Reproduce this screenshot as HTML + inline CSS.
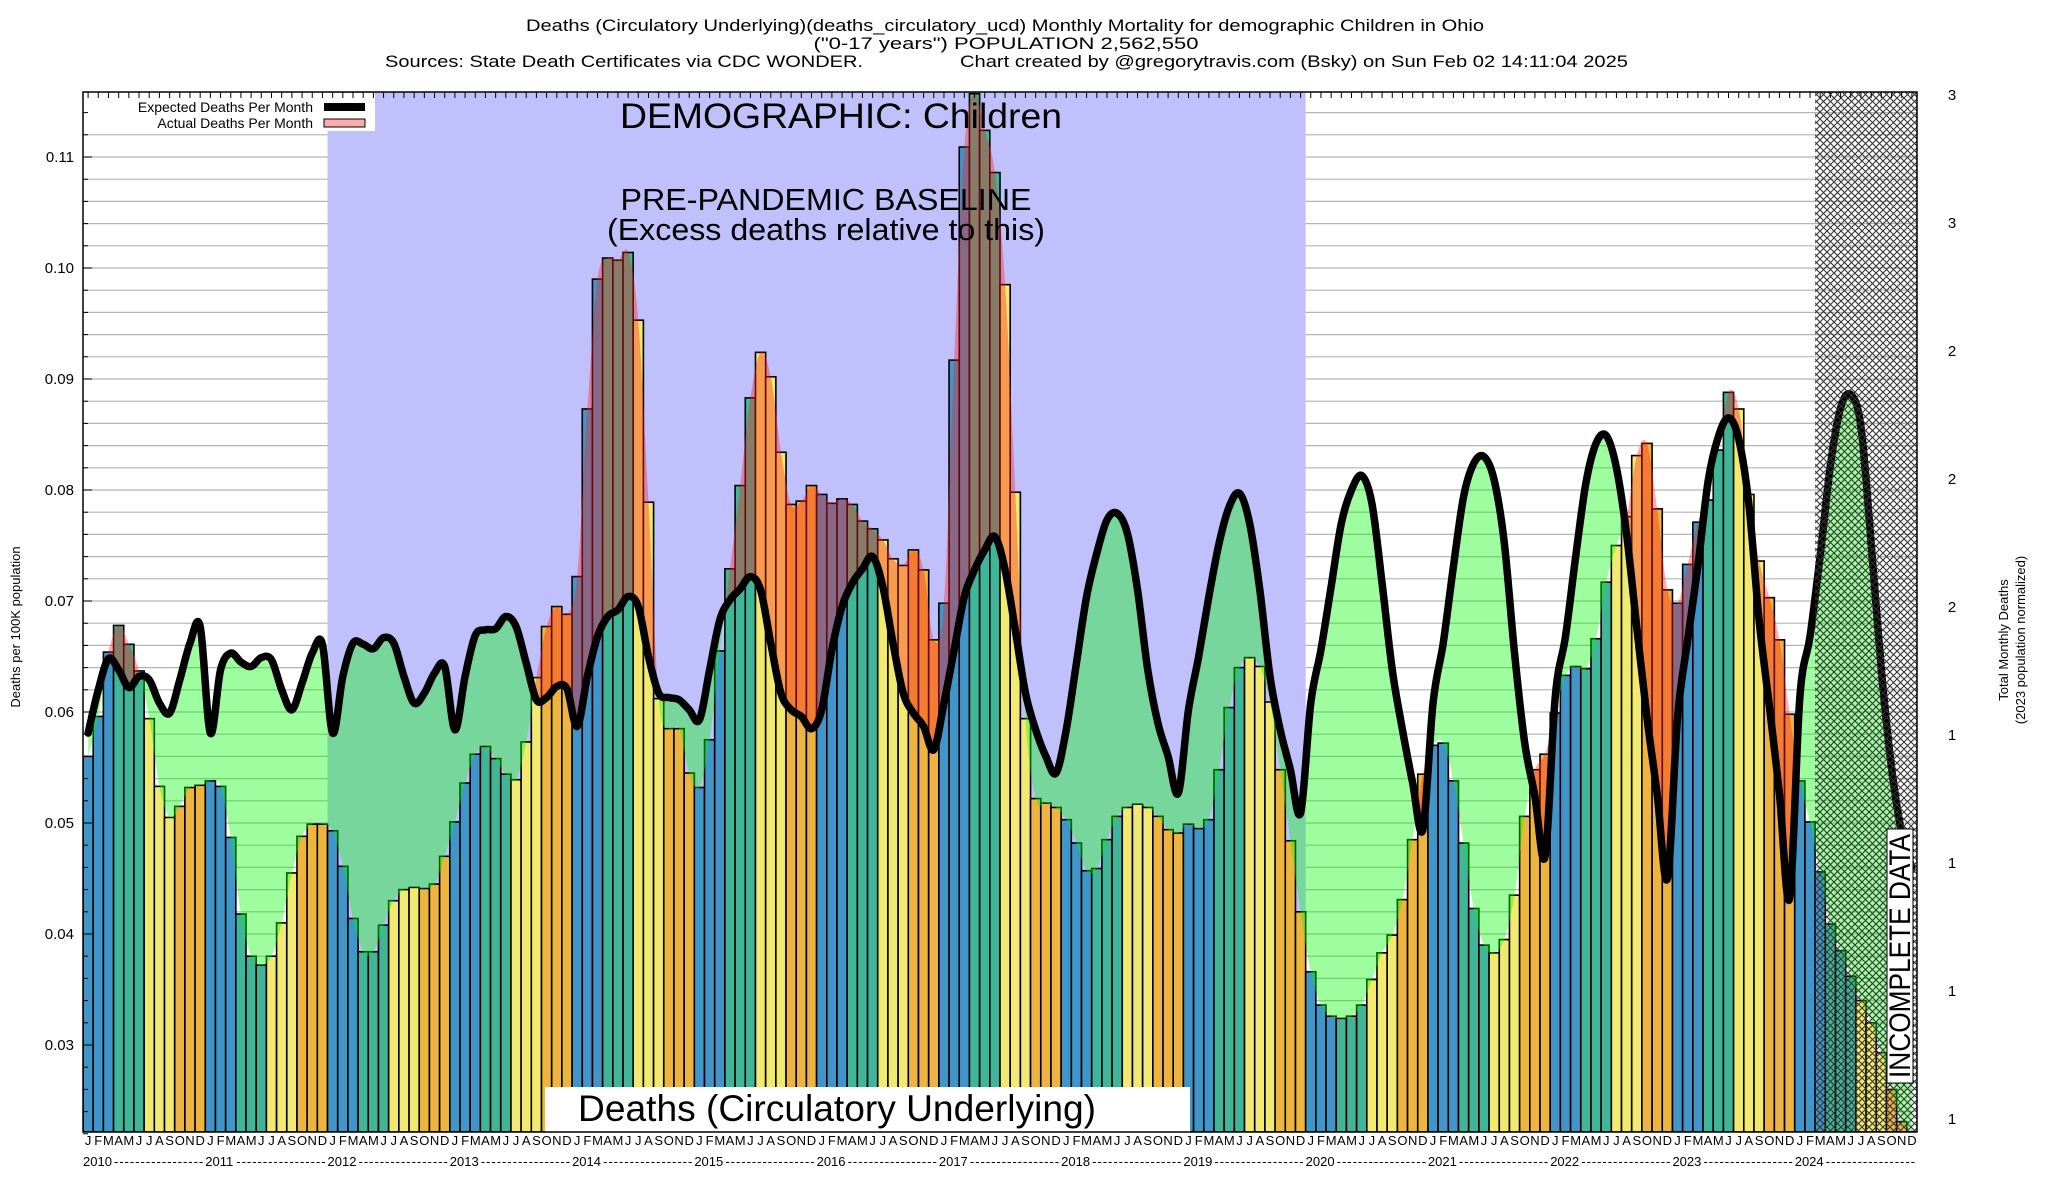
<!DOCTYPE html>
<html><head><meta charset="utf-8"><title>Deaths (Circulatory Underlying) Monthly Mortality - Children in Ohio</title>
<style>
html,body{margin:0;padding:0;background:#fff;}
svg{display:block;font-family:"Liberation Sans",sans-serif;}
</style></head>
<body>
<svg id="chart" xmlns="http://www.w3.org/2000/svg" width="2048" height="1200" viewBox="0 0 2048 1200">
<defs>
<clipPath id="plotClip"><rect x="83" y="92" width="1834" height="1040"/></clipPath>
<pattern id="hatch" width="7" height="7" patternUnits="userSpaceOnUse">
<path d="M0,0 L7,7 M7,0 L0,7" stroke="#333" stroke-width="1.1"/>
</pattern>
</defs>
<rect x="0" y="0" width="2048" height="1200" fill="#fff"/>
<g>
<text x="1005" y="31" font-size="17" text-anchor="middle" textLength="958" lengthAdjust="spacingAndGlyphs">Deaths (Circulatory Underlying)(deaths_circulatory_ucd) Monthly Mortality for demographic Children in Ohio</text>
<text x="1006" y="49" font-size="17" text-anchor="middle" textLength="385" lengthAdjust="spacingAndGlyphs">("0-17 years") POPULATION 2,562,550</text>
<text x="385" y="67" font-size="17" textLength="478" lengthAdjust="spacingAndGlyphs">Sources: State Death Certificates via CDC WONDER.</text>
<text x="960" y="67" font-size="17" textLength="668" lengthAdjust="spacingAndGlyphs">Chart created by @gregorytravis.com (Bsky) on Sun Feb 02 14:11:04 2025</text>
</g>
<g id="plot" clip-path="url(#plotClip)"></g>
<g id="overlay"></g>
<g id="axes"></g>
</svg>
<script>
const monthLetters = ["J","F","M","A","M","J","J","A","S","O","N","D"];
const years = [2010,2011,2012,2013,2014,2015,2016,2017,2018,2019,2020,2021,2022,2023,2024];
const yTicks = [0.03,0.04,0.05,0.06,0.07,0.08,0.09,0.10,0.11];
const rightTickLabels = ["3","3","2","2","2","1","1","1","1"];
const actual = [
.0560,.0596,.0654,.0678,.0661,.0637,.0594,.0533,.0505,.0515,.0532,.0534,
.0538,.0533,.0487,.0418,.0380,.0372,.0380,.0410,.0455,.0488,.0499,.0499,
.0493,.0461,.0414,.0384,.0384,.0408,.0430,.0440,.0442,.0441,.0445,.0470,
.0501,.0536,.0562,.0569,.0558,.0544,.0539,.0573,.0631,.0677,.0695,.0688,
.0722,.0873,.0990,.1009,.1007,.1014,.0953,.0789,.0612,.0585,.0585,.0545,
.0532,.0575,.0655,.0729,.0804,.0883,.0924,.0902,.0834,.0787,.0790,.0804,
.0796,.0788,.0792,.0787,.0772,.0765,.0755,.0738,.0732,.0746,.0728,.0665,
.0698,.0917,.1109,.1157,.1124,.1086,.0985,.0798,.0594,.0522,.0518,.0514,
.0503,.0482,.0457,.0459,.0485,.0506,.0514,.0517,.0514,.0506,.0494,.0491,
.0499,.0495,.0503,.0548,.0604,.0640,.0649,.0641,.0609,.0548,.0484,.0420,
.0366,.0336,.0326,.0324,.0326,.0336,.0359,.0383,.0399,.0431,.0485,.0544,
.0570,.0572,.0538,.0482,.0423,.0390,.0383,.0395,.0435,.0506,.0548,.0562,
.0599,.0633,.0641,.0639,.0666,.0717,.0750,.0776,.0831,.0842,.0783,.0710,
.0698,.0733,.0771,.0791,.0836,.0888,.0873,.0796,.0736,.0703,.0665,.0598,
.0538,.0501,.0456,.0409,.0385,.0362,.0340,.0320,.0293,.0260,.0231,.0222];
const expected = [
.0581,.0620,.0648,.0638,.0622,.0632,.0629,.0608,.0599,.0629,.0662,.0677,
.0581,.0638,.0653,.0645,.0641,.0649,.0647,.0620,.0602,.0626,.0653,.0661,
.0581,.0632,.0662,.0661,.0657,.0667,.0662,.0632,.0608,.0617,.0635,.0641,
.0584,.0632,.0669,.0674,.0675,.0686,.0677,.0644,.0611,.0613,.0623,.0621,
.0587,.0632,.0668,.0686,.0692,.0704,.0695,.0650,.0617,.0613,.0611,.0602,
.0593,.0638,.0683,.0701,.0711,.0722,.0710,.0662,.0617,.0602,.0596,.0585,
.0602,.0656,.0695,.0716,.0729,.0740,.0713,.0662,.0617,.0599,.0587,.0566,
.0608,.0656,.0704,.0728,.0746,.0758,.0728,.0674,.0617,.0584,.0560,.0545,
.0584,.0644,.0704,.0743,.0773,.0779,.0761,.0710,.0638,.0590,.0560,.0527,
.0602,.0650,.0704,.0752,.0785,.0797,.0770,.0710,.0632,.0584,.0548,.0509,
.0608,.0656,.0713,.0770,.0800,.0813,.0788,.0716,.0638,.0584,.0536,.0494,
.0608,.0662,.0731,.0794,.0824,.0830,.0809,.0752,.0653,.0572,.0524,.0470,
.0614,.0668,.0740,.0806,.0842,.0849,.0820,.0760,.0676,.0595,.0526,.0450,
.0595,.0665,.0732,.0808,.0848,.0865,.0846,.0787,.0683,.0606,.0526,.0432,
.0613,.0668,.0741,.0822,.0874,.0886,.0857,.0752,.0638,.0550,.0491,.0460];
const baselineStartMonth = 24, baselineEndMonth = 120, incompleteStartMonth = 170;

const NS = "http://www.w3.org/2000/svg";
const PL = 83, PR = 1917, PT = 92, PB = 1132;
const N = actual.length;
const W = (PR - PL) / 180;
function xLeft(i){ return PL + i * W; }
function xC(i){ return PL + (i + 0.5) * W; }
function yV(v){ return 157 + (0.11 - v) * 11100; }
function mk(tag, attrs, parent){
  const e = document.createElementNS(NS, tag);
  for (const k in attrs) e.setAttribute(k, attrs[k]);
  parent.appendChild(e);
  return e;
}
function splinePath(pts){
  let d = "M" + pts[0][0].toFixed(2) + "," + pts[0][1].toFixed(2);
  for (let i = 0; i < pts.length - 1; i++){
    const p0 = pts[i-1] || pts[i], p1 = pts[i], p2 = pts[i+1], p3 = pts[i+2] || p2;
    const c1x = p1[0] + (p2[0]-p0[0])/6, c1y = p1[1] + (p2[1]-p0[1])/6;
    const c2x = p2[0] - (p3[0]-p1[0])/6, c2y = p2[1] - (p3[1]-p1[1])/6;
    d += " C" + c1x.toFixed(2)+","+c1y.toFixed(2)+" "+c2x.toFixed(2)+","+c2y.toFixed(2)+" "+p2[0].toFixed(2)+","+p2[1].toFixed(2);
  }
  return d;
}
const svg = document.getElementById("chart");
const defs = svg.querySelector("defs");
const plot = document.getElementById("plot");
const overlay = document.getElementById("overlay");
const axes = document.getElementById("axes");

for (let v = 0.022; v <= 0.1145; v += 0.002){
  const g = mk("line", {x1:PL, x2:PR, y1:yV(v), y2:yV(v), stroke:"#b4b4b4", "stroke-width":1.2}, plot);
  
  
}
const base = mk("rect", {x:xLeft(baselineStartMonth), y:PT, width:xLeft(baselineEndMonth)-xLeft(baselineStartMonth), height:PB-PT, fill:"#c0c0fc"}, plot);



const qColors = ["#4195c8","#40b597","#f2e971","#edb540"];
for (let i = 0; i < N; i++){
  const v = actual[i];
  const b = mk("rect", {x:xLeft(i), y:yV(v), width:W, height:PB - yV(v), fill:qColors[Math.floor((i%12)/3)], stroke:"#000", "stroke-width":1.6}, plot);
  
  
}

const aPts = actual.map((v,i)=>[xC(i), yV(v)]);
const ePts = expected.map((v,i)=>[xC(i), yV(v)]);
const aPath = splinePath(aPts), ePath = splinePath(ePts);
const xs = xC(0), xe = xC(N-1);
function addClip(id, d){
  const c = mk("clipPath", {id:id}, defs);
  mk("path", {d:d}, c);
}
addClip("underActual", aPath + " L"+xe+","+PB+" L"+xs+","+PB+" Z");
addClip("aboveActual", aPath + " L"+xe+","+PT+" L"+xs+","+PT+" Z");
const gRed = mk("g", {"clip-path":"url(#underActual)"}, plot);
const red = mk("path", {d: ePath + " L"+xe+","+PT+" L"+xs+","+PT+" Z", fill:"rgba(255,30,30,0.38)"}, gRed);


const gGreen = mk("g", {"clip-path":"url(#aboveActual)"}, plot);
const green = mk("path", {d: ePath + " L"+xe+","+PB+" L"+xs+","+PB+" Z", fill:"rgba(0,250,0,0.38)"}, gGreen);



const eLine = mk("path", {d:ePath, fill:"none", stroke:"#000", "stroke-width":7.5, "stroke-linejoin":"round", "stroke-linecap":"round"}, plot);



const hatch = mk("rect", {x:xLeft(incompleteStartMonth), y:PT, width:PR-xLeft(incompleteStartMonth), height:PB-PT, fill:"url(#hatch)"}, plot);



const lg = mk("g", {}, overlay);


mk("rect", {x:PL+1, y:PT+1, width:291, height:38, fill:"#fff"}, lg);
const l1 = mk("text", {x:313, y:112, "font-size":14, "text-anchor":"end"}, lg);
l1.textContent = "Expected Deaths Per Month";


mk("rect", {x:324, y:103, width:41, height:8, fill:"#000"}, lg);
const l2 = mk("text", {x:313, y:128, "font-size":14, "text-anchor":"end"}, lg);
l2.textContent = "Actual Deaths Per Month";


mk("rect", {x:324, y:119, width:41, height:8, fill:"#ffaaaa", stroke:"#000", "stroke-width":1}, lg);

function txt(x,y,s,size,len,parent){
  const t = mk("text", {x:x, y:y, "font-size":size, "text-anchor":"middle", textLength:len, lengthAdjust:"spacingAndGlyphs"}, parent);
  t.textContent = s;
  return t;
}
const t1 = txt(841,128,"DEMOGRAPHIC: Children",35,442,overlay);


const t2 = txt(826,210,"PRE-PANDEMIC BASELINE",31,411,overlay);


const t3 = txt(826,240,"(Excess deaths relative to this)",31,438,overlay);


const box = mk("rect", {x:545, y:1087, width:645, height:45, fill:"#fff"}, overlay);


const t4 = txt(837,1121,"Deaths (Circulatory Underlying)",37,518,overlay);


const ibox = mk("rect", {x:1887, y:829, width:26, height:254, fill:"#fff", stroke:"#000", "stroke-width":1}, overlay);


const t5 = mk("text", {x:0, y:0, "font-size":30, "text-anchor":"middle", textLength:244, lengthAdjust:"spacingAndGlyphs", transform:"translate(1910,956) rotate(-90)"}, overlay);
t5.textContent = "INCOMPLETE DATA";



const fr = mk("rect", {x:PL, y:PT, width:PR-PL, height:PB-PT, fill:"none", stroke:"#000", "stroke-width":1.5}, axes);


for (let i = 0; i < 180; i++){
  mk("line", {x1:xC(i), x2:xC(i), y1:PT, y2:PT+6, stroke:"#000", "stroke-width":1}, axes);
}
for (let v = 0.022; v <= 0.1145; v += 0.002){
  mk("line", {x1:PL, x2:PL+5, y1:yV(v), y2:yV(v), stroke:"#000", "stroke-width":1}, axes);
}
yTicks.forEach(v=>{
  mk("line", {x1:PL, x2:PL+9, y1:yV(v), y2:yV(v), stroke:"#000", "stroke-width":1}, axes);
  const t = mk("text", {x:74, y:yV(v)+5, "font-size":15, "text-anchor":"end"}, axes);
  t.textContent = v.toFixed(2);
  
  
});
const yt = mk("text", {x:0, y:0, "font-size":13, "text-anchor":"middle", transform:"translate(20,627) rotate(-90)"}, axes);
yt.textContent = "Deaths per 100K population";


rightTickLabels.forEach((s,k)=>{
  const t = mk("text", {x:1952, y:95+128*k+5, "font-size":15, "text-anchor":"middle"}, axes);
  t.textContent = s;
  
  
});
const rt = mk("text", {x:0, y:0, "font-size":13, "text-anchor":"middle", transform:"translate(2008,640) rotate(-90)"}, axes);
rt.textContent = "Total Monthly Deaths";


const rt2 = mk("text", {x:0, y:0, "font-size":13, "text-anchor":"middle", transform:"translate(2025,640) rotate(-90)"}, axes);
rt2.textContent = "(2023 population normalized)";


for (let i = 0; i < 180; i++){
  const t = mk("text", {x:xC(i), y:1145, "font-size":13, "text-anchor":"middle"}, axes);
  t.textContent = monthLetters[i%12];
  
  
}
years.forEach((yr,k)=>{
  const x0 = xLeft(k*12);
  const t = mk("text", {x:x0, y:1166, "font-size":13}, axes);
  t.textContent = String(yr);
  
  
  const d = mk("text", {x:x0+31, y:1166, "font-size":13, textLength:12*W-33, lengthAdjust:"spacing"}, axes);
  d.textContent = "-----------------";
  
  
});
</script>
</body></html>
